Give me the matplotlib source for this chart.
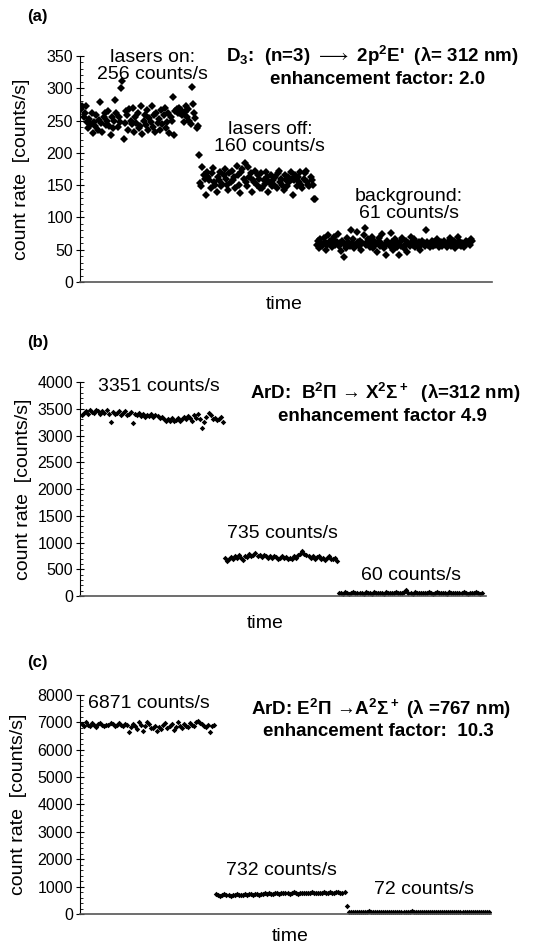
import matplotlib.pyplot as plt
import numpy as np
from matplotlib.ticker import MultipleLocator

plt.rcParams['font.family'] = ['Liberation Sans', 'DejaVu Sans']
plt.rcParams['mathtext.default'] = 'regular'

# ---- panel (a): D3, values in counts/s ----
a_on = [268, 272, 255, 262, 273, 248, 238, 252, 244, 262, 230, 247, 241, 258, 236, 251, 278, 246, 233, 256,
        262, 243, 249, 265, 241, 228, 255, 238, 250, 282, 262, 240, 256, 247, 300, 312, 222, 246, 265, 258,
        235, 268, 250, 244, 270, 232, 255, 246, 262, 238, 241, 272, 229, 250, 258, 243, 266, 236, 254, 248,
        273, 240, 258, 232, 262, 246, 252, 236, 266, 244, 258, 270, 238, 248, 262, 230, 255, 250, 286, 228,
        265, 268, 262, 270, 262, 266, 258, 248, 264, 272, 255, 268, 250, 244, 302, 276, 262, 254, 238, 242]
a_off = [196, 154, 148, 178, 165, 160, 135, 170, 162, 158, 145, 168, 176, 155, 150, 140, 162, 158, 170, 148,
         152, 165, 175, 160, 150, 143, 168, 155, 172, 158, 162, 146, 180, 165, 150, 138, 170, 175, 160, 185,
         155, 148, 178, 162, 168, 140, 158, 155, 172, 150, 165, 160, 146, 168, 145, 158, 152, 170, 162, 140,
         155, 165, 148, 158, 150, 162, 145, 168, 172, 155, 160, 150, 142, 165, 158, 148, 162, 155, 170, 160,
         135, 158, 165, 148, 162, 155, 170, 150, 146, 160, 168, 172, 155, 150, 148, 162, 158, 150, 129, 128]
a_bg = [58, 64, 52, 66, 60, 56, 68, 62, 50, 58, 72, 64, 60, 54, 66, 70, 58, 62, 74, 56,
        60, 48, 64, 38, 58, 52, 68, 62, 56, 80, 60, 66, 52, 58, 78, 62, 56, 64, 50, 60,
        72, 84, 58, 62, 66, 54, 60, 70, 52, 64, 58, 46, 62, 68, 56, 60, 74, 52, 58, 42,
        64, 60, 56, 76, 62, 50, 58, 66, 54, 60, 42, 62, 56, 68, 52, 58, 64, 46, 60, 56,
        70, 62, 58, 66, 54, 60, 56, 62, 50, 58, 64, 60, 56, 80, 62, 58, 54, 60, 64, 56,
        62, 58, 66, 60, 54, 58, 62, 56, 64, 60, 58, 54, 62, 68, 56, 60, 58, 64, 52, 60,
        70, 58, 62, 56, 60, 54, 58, 64, 60, 62, 58, 66, 64]

# ---- panel (b): ArD B-X, 312 nm ----
b_on = [3380, 3430, 3460, 3410, 3470, 3440, 3420, 3480, 3450, 3400, 3460, 3430, 3470, 3410, 3250, 3440, 3400,
        3430, 3460, 3380, 3420, 3450, 3390, 3410, 3440, 3230, 3400, 3380, 3420, 3360, 3400, 3350, 3390,
        3370, 3410, 3340, 3380, 3360, 3320, 3350, 3300, 3270, 3310, 3280, 3320, 3270, 3290, 3330, 3280,
        3310, 3340, 3300, 3360, 3330, 3280, 3380, 3320, 3400, 3300, 3150, 3260, 3350, 3420, 3390, 3300,
        3330, 3290, 3310, 3340, 3260]
b_off = [720, 650, 700, 730, 690, 740, 710, 760, 720, 680, 750, 730, 780, 740, 760, 800, 750, 770, 730,
         760, 740, 720, 750, 710, 740, 730, 700, 720, 740, 710, 730, 700, 720, 690, 740, 720, 760, 790,
         850, 780, 760, 740, 720, 750, 700, 730, 740, 700, 720, 680, 710, 740, 700, 690, 720, 660]
b_bg = [50, 62, 45, 70, 55, 40, 60, 75, 52, 48, 66, 58, 44, 72, 54, 60, 46, 68, 56, 50,
        64, 58, 42, 70, 60, 52, 66, 48, 74, 56, 62, 50, 68, 110, 58, 64, 46, 72, 54, 60,
        48, 66, 58, 52, 70, 62, 44, 56, 68, 60, 50, 64, 58, 46, 72, 54, 62, 48, 66, 60,
        52, 70, 56, 44, 64, 58, 50, 68, 54, 42, 60]

# ---- panel (c): ArD E-A, 767 nm ----
c_on = [6950, 6880, 7000, 6920, 6860, 6960, 6900, 6840, 6930, 6980, 6890, 6850, 6920, 6900, 6960, 6940,
        6880, 6920, 6970, 6900, 6860, 6940, 6900, 6650, 6820, 6950, 6880, 6760, 7000, 6920, 6700, 6850,
        7020, 6940, 6800, 6780, 6880, 6700, 6820, 6760, 6900, 6960, 6800, 6880, 6940, 6720, 6840, 7000,
        6860, 6780, 6940, 6880, 6820, 6960, 6900, 6860, 7020, 7060, 6980, 6940, 6880, 6840, 6920, 6650,
        6880, 6900]
c_off = [720, 700, 650, 690, 720, 680, 700, 660, 710, 690, 720, 700, 680, 710, 730, 700, 720, 740,
         710, 730, 720, 700, 740, 720, 750, 730, 760, 740, 720, 750, 770, 740, 760, 780, 750, 770,
         740, 760, 790, 760, 740, 770, 760, 780, 750, 770, 760, 790, 770, 750, 780, 760, 770, 790,
         760, 780, 800, 770, 760, 790, 820, 780, 770, 800]
c_step = [290]
c_bg = [60, 80, 70, 90, 65, 75, 85, 60, 70, 80, 95, 70, 65, 80, 75, 90, 70, 60, 85, 75,
        70, 80, 65, 90, 75, 70, 85, 60, 80, 70, 75, 95, 65, 80, 70, 85, 75, 60, 80, 70,
        90, 75, 65, 80, 70, 85, 75, 70, 60, 80, 90, 70, 75, 65, 85, 70, 80, 75, 60, 90,
        70, 80, 65, 75, 85, 70, 80, 75, 90, 70]

panels = [
    dict(tag='(a)', segs=[a_on, a_off, a_bg], ymax=350, major=50, minor=10, ms=4.0,
         rect=[0.1476, 0.7013, 0.760, 0.2394], tagy=0.982, timey=0.677, timex=0.524,
         xmax=350, labx=-0.121),
    dict(tag='(b)', segs=[b_on, b_off, b_bg], ymax=4000, major=500, minor=100, ms=2.8,
         rect=[0.1476, 0.3686, 0.7491, 0.2267], tagy=0.637, timey=0.340, timex=0.49,
         xmax=199, labx=-0.118),
    dict(tag='(c)', segs=[c_on, c_off, c_step, c_bg], ymax=8000, major=1000, minor=200, ms=2.8,
         rect=[0.1476, 0.0318, 0.7583, 0.2320], tagy=0.298, timey=0.008, timex=0.535,
         xmax=202, labx=-0.129),
]

fig = plt.figure(figsize=(5.42, 9.44), dpi=100)
axes = []
for p in panels:
    ax = fig.add_axes(p['rect'])
    start = 1
    for seg in p['segs']:
        t = np.arange(start, start + len(seg))
        ax.plot(t, seg, linestyle='none', marker='D', ms=p['ms'], color='black', mec='black', mew=0)
        start += len(seg)
    ax.set_xlim(0, p['xmax'])
    ax.set_ylim(0, p['ymax'])
    ax.yaxis.set_major_locator(MultipleLocator(p['major']))
    ax.yaxis.set_minor_locator(MultipleLocator(p['minor']))
    ax.tick_params(axis='y', which='major', direction='inout', length=6, width=0.8, labelsize=11.5, pad=2)
    ax.tick_params(axis='y', which='minor', direction='in', length=2.5, width=0.6)
    ax.set_xticks([])
    ax.spines['top'].set_visible(False)
    ax.spines['right'].set_visible(False)
    ax.spines['bottom'].set_color('#555555')
    ax.spines['bottom'].set_linewidth(1.2)
    ax.spines['left'].set_linewidth(0.8)
    ax.set_ylabel('count rate  [counts/s]', fontsize=14)
    ax.yaxis.set_label_coords(p['labx'], 0.5)
    fig.text(0.05, p['tagy'], p['tag'], fontsize=12, fontweight='bold', ha='left', va='center')
    fig.text(p['timex'], p['timey'], 'time', fontsize=14, ha='center', va='center')
    axes.append(ax)

ax_a, ax_b, ax_c = axes

note = dict(fontsize=14, ha='center', va='center', linespacing=0.95)
head = dict(fontsize=13.5, fontweight='bold', ha='center', va='center')

# panel (a) annotations
ax_a.text(0.175, 0.955, 'lasers on:\n256 counts/s', transform=ax_a.transAxes, **note)
ax_a.text(0.461, 0.637, 'lasers off:\n160 counts/s', transform=ax_a.transAxes, **note)
ax_a.text(0.799, 0.34, 'background:\n61 counts/s', transform=ax_a.transAxes, **note)
ax_a.text(0.71, 1.0, r"D$_3$:  (n=3) $\longrightarrow$ 2p$^2$E'  (\u03bb= 312 nm)".replace(r'\u03bb', '\u03bb'),
          transform=ax_a.transAxes, **head)
ax_a.text(0.723, 0.895, 'enhancement factor: 2.0', transform=ax_a.transAxes, **head)

# panel (b) annotations
ax_b.text(0.195, 0.977, '3351 counts/s', transform=ax_b.transAxes, **note)
ax_b.text(0.498, 0.29, '735 counts/s', transform=ax_b.transAxes, **note)
ax_b.text(0.815, 0.098, '60 counts/s', transform=ax_b.transAxes, **note)
ax_b.text(0.751, 0.949, 'ArD:  B$^2$\u03a0 \u2192 X$^2$\u03a3$^+$  (\u03bb=312 nm)', transform=ax_b.transAxes, **head)
ax_b.text(0.745, 0.841, 'enhancement factor 4.9', transform=ax_b.transAxes, **head)

# panel (c) annotations
ax_c.text(0.168, 0.96, '6871 counts/s', transform=ax_c.transAxes, **note)
ax_c.text(0.49, 0.20, '732 counts/s', transform=ax_c.transAxes, **note)
ax_c.text(0.837, 0.114, '72 counts/s', transform=ax_c.transAxes, **note)
ax_c.text(0.732, 0.935, 'ArD: E$^2$\u03a0 \u2192A$^2$\u03a3$^+$ (\u03bb =767 nm)', transform=ax_c.transAxes, **head)
ax_c.text(0.725, 0.835, 'enhancement factor:  10.3', transform=ax_c.transAxes, **head)

fig.savefig('out.png', dpi=100)
